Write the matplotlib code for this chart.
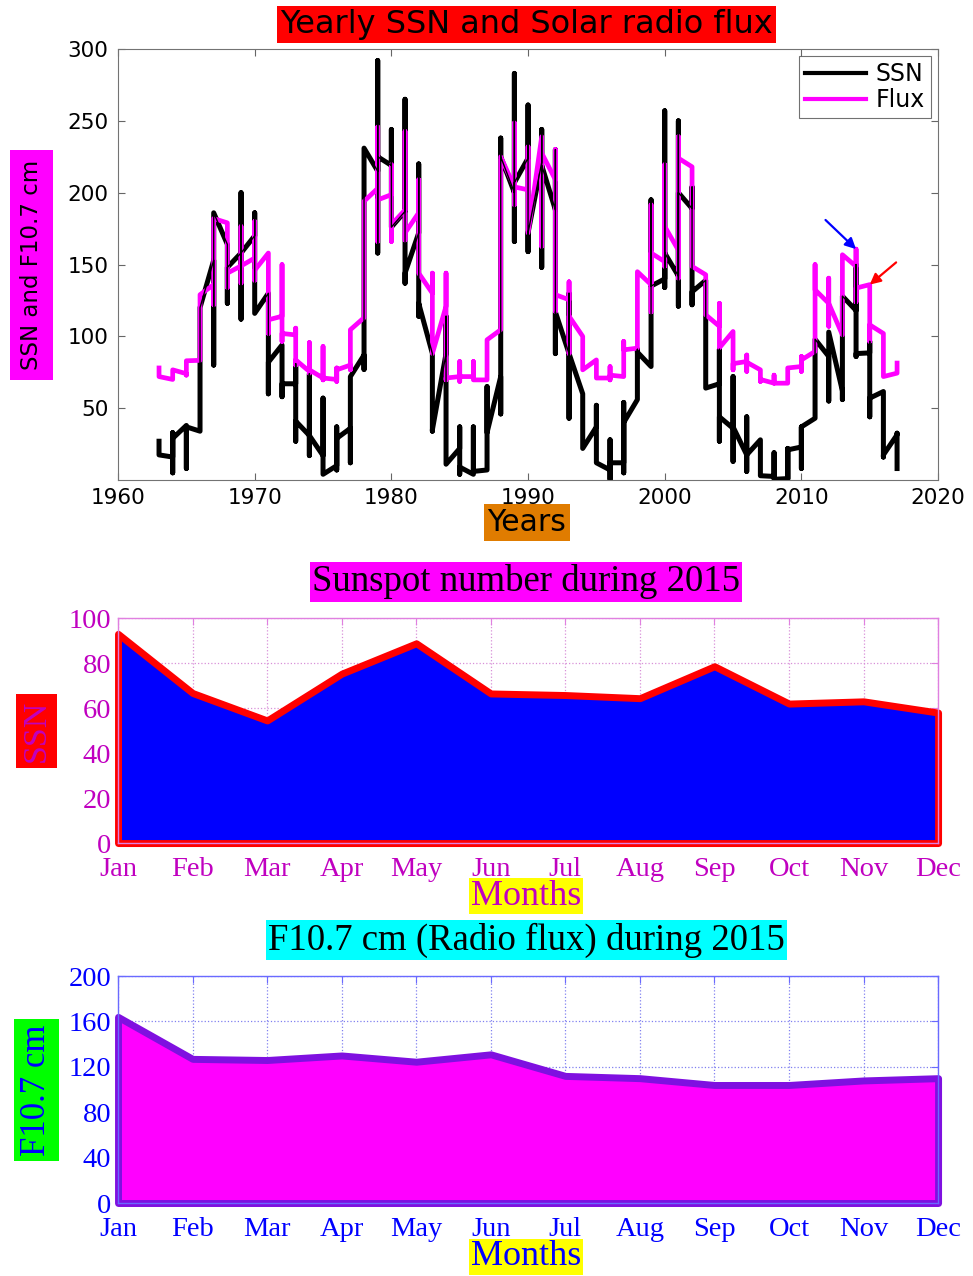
import matplotlib
matplotlib.use("Agg")
import matplotlib.pyplot as plt
import matplotlib.transforms as mtransforms
import numpy as np

# yearly panel: each year is drawn as a vertical run of values at that year
years = list(range(1963, 2018))
ssn_path = [
    [27, 17.5], [16, 33, 5, 29], [38, 8, 37], [34, 120], [153, 80, 186],
    [164, 123, 148], [158, 200, 112, 158], [170, 186, 116], [130, 60, 82],
    [94, 58, 67], [67, 81, 27, 41], [31, 74, 17, 31], [17, 57, 4],
    [10, 37, 7, 29], [36, 12, 72], [87, 77, 231], [215, 292, 158, 225],
    [219, 244, 176], [187, 265, 137, 144], [172, 220, 114, 123], [88, 34, 35],
    [88, 114, 11], [22, 37, 4, 9], [4, 37, 6], [7, 65, 33], [72, 46, 238, 225],
    [200, 283, 166, 207], [224, 261, 159, 172], [221, 244, 148, 219],
    [188, 230, 88, 117], [88, 130, 43, 88], [60, 22], [37, 52, 12],
    [7, 28, 0.5, 12], [12, 54, 5, 40], [56, 91, 89], [79, 195, 79, 135],
    [140, 257, 134, 158], [142, 250, 121, 200], [189, 204, 122, 131], [139, 64],
    [67, 91, 27, 44], [36, 72, 13, 37], [17.5, 44, 6, 17.5], [28, 3],
    [2.5, 19, 0.5], [1, 22, 0.5, 21], [23, 37, 8, 37], [43, 98], [86, 55, 103],
    [62, 56, 128], [118, 150, 86, 88], [88.5, 96.5, 44, 57], [61.6, 16, 17.5],
    [31.5, 32.6, 8],
]
flux_path = [
    [78, 72], [70, 76.7], [74, 82.5, 73, 83], [83.3, 129], [136, 122, 182],
    [179, 134, 144], [149, 176.5, 137, 149], [154.5, 180, 139, 146],
    [158, 102, 111.5], [114, 150, 96.5, 102], [101, 105.7, 80, 83.6],
    [75.6, 95.7, 74.4, 76.7], [71, 93, 69.7, 71], [70, 78, 68.6, 76.7],
    [80, 76.7, 104.6], [113, 194], [203, 245.7, 166, 195],
    [198.6, 219.5, 166, 177.7], [188, 242.7, 167, 172], [186, 209, 144],
    [130, 144, 88], [121, 144, 69.7, 71], [72, 82.5, 68.6, 72], [72, 82.5, 69.7],
    [69.7, 97.6], [104.6, 225], [204, 248.5, 191.6, 204], [202, 232, 172],
    [239, 162.6, 227.6], [209, 230, 117.3, 129], [125.5, 138, 88, 114],
    [100, 76.7], [83.6, 71], [71, 79, 69.7, 73], [72, 96.5, 72, 90.6],
    [91.8, 145], [136, 191.6, 117, 158], [152, 219.5, 148.7, 176.5],
    [160, 239, 140.5, 224], [218, 148.7], [142.9, 115], [107, 123, 92],
    [103.4, 76.7, 81], [82.5, 87, 75.6, 82], [76.7, 68.6, 70], [67.4, 73, 67.4],
    [67.4, 78], [79, 86, 75.6, 83.6], [89.5, 150, 132.4], [123, 140.5, 107, 123],
    [101, 156.8], [148.7, 160.7, 124, 133.6], [136, 96.5, 108], [102, 72],
    [74.4, 81.4],
]

months = ["Jan", "Feb", "Mar", "Apr", "May", "Jun",
          "Jul", "Aug", "Sep", "Oct", "Nov", "Dec"]
ssn_2015 = [93.0, 66.7, 54.5, 75.3, 88.8, 66.5, 65.8, 64.4, 78.6, 62.0, 63.0, 58.0]
flux_2015 = [164, 127, 126, 130, 124.5, 131, 112, 110, 104, 104, 108, 110]

SANS = "DejaVu Sans"
SERIF = "Liberation Serif"


def _runs(paths):
    xs, ys = [], []
    for yr, vals in zip(years, paths):
        xs += [yr] * len(vals)
        ys += vals
    return xs, ys


fig = plt.figure(figsize=(9.73, 12.76), dpi=100)

# ---- top: yearly SSN and flux
ax1 = fig.add_axes([0.1213, 0.6238, 0.8428, 0.3378])
xs, ys = _runs(ssn_path)
xf, yf = _runs(flux_path)
l1, = ax1.plot(xs, ys, color="k", lw=3.6, zorder=2, label="SSN")
l2, = ax1.plot(xf, yf, color="#FF00FF", lw=3.4, zorder=3, label="Flux")
ax1.plot(xs, ys, color="k", lw=1.0, zorder=4)
ax1.set_xlim(1960, 2020)
ax1.set_ylim(0, 300)
ax1.set_xticks(range(1960, 2021, 10))
ax1.set_yticks(range(50, 301, 50))
ax1.tick_params(direction="in", top=True, right=True, length=5, color="0.4",
                labelsize=15.5, pad=7)
ax1.tick_params(axis="x", pad=6)
for lbl in ax1.get_xticklabels() + ax1.get_yticklabels():
    lbl.set_fontfamily(SANS)
for sp in ax1.spines.values():
    sp.set_color("0.45")
leg = ax1.legend(handles=[l1, l2], loc="upper right", bbox_to_anchor=(0.991, 0.984),
                 borderaxespad=0, fancybox=False, edgecolor="0.3",
                 prop={"family": SANS, "size": 17}, handlelength=2.6,
                 handletextpad=0.4, labelspacing=0.1, borderpad=0.25)
leg.get_frame().set_linewidth(0.8)
for h in leg.get_lines():
    h.set_linewidth(3)

i14 = years.index(2014)
i15 = years.index(2015)
ax1.annotate("", xy=(2014, max(flux_path[i14])), xytext=(-22, 21),
             textcoords="offset points",
             arrowprops=dict(arrowstyle="-|>", color="#0000FF", lw=1.6,
                             mutation_scale=16, shrinkA=0, shrinkB=0))
ax1.annotate("", xy=(2015, flux_path[i15][0]), xytext=(19, 16),
             textcoords="offset points",
             arrowprops=dict(arrowstyle="-|>", color="#FF0000", lw=1.6,
                             mutation_scale=16, shrinkA=0, shrinkB=0))

fig.text(0.541, 0.981, "Yearly SSN and Solar radio flux", ha="center", va="center",
         family=SANS, fontsize=23, color="k",
         bbox=dict(facecolor="#FF0000", edgecolor="none", pad=2))
fig.text(0.5416, 0.5905, "Years", ha="center", va="center", family=SANS,
         fontsize=21.5, color="k",
         bbox=dict(facecolor="#E07C00", edgecolor="none", pad=2.5))
fig.text(0.0324, 0.7923, "SSN and F10.7 cm", ha="center", va="center",
         rotation=90, family=SANS, fontsize=16.5, color="k",
         bbox=dict(facecolor="#FF00FF", edgecolor="none", pad=7))


# ---- monthly panels
def _month_panel(rect, vals, ymax, ystep, fill, edge, tickc, spinec, gridc):
    ax = fig.add_axes(rect)
    mx = np.arange(1, 13)
    ax.fill_between(mx, vals, 0, facecolor=fill, edgecolor=edge, lw=5,
                    clip_on=False, zorder=2)
    ax.set_xlim(1, 12)
    ax.set_ylim(0, ymax)
    ax.set_xticks(mx, months, family=SERIF, fontsize=20.5, color=tickc)
    yt = np.arange(0, ymax + 1, ystep)
    ax.set_yticks(yt, [str(int(v)) for v in yt], family=SERIF, fontsize=20.5,
                  color=tickc)
    # nudge y labels up a touch so the "0" clears the "Jan" below it
    up = mtransforms.ScaledTranslation(0, 2.5 / 72, fig.dpi_scale_trans)
    for lbl in ax.get_yticklabels():
        lbl.set_transform(lbl.get_transform() + up)
    ax.set_axisbelow(True)
    ax.grid(True, ls=":", color=gridc, lw=0.9)
    ax.tick_params(direction="in", top=True, right=True, length=5, color=spinec,
                   pad=5)
    ax.tick_params(axis="x", pad=10)
    for sp in ax.spines.values():
        sp.set_color(spinec)
        sp.set_linewidth(1.0)
    return ax


_month_panel([0.1213, 0.3393, 0.8428, 0.1763], ssn_2015, 100, 20,
             "#0000FF", "#FF0000", "#C000C0", "#E080E0", "#D890D8")
fig.text(0.5406, 0.5439, "Sunspot number during 2015", ha="center", va="center",
         family=SERIF, fontsize=26.5, color="k",
         bbox=dict(facecolor="#FF00FF", edgecolor="none", pad=1.5))
fig.text(0.0375, 0.4271, "SSN", ha="center", va="center", rotation=90,
         family=SERIF, fontsize=24.5, color="#C000C0",
         bbox=dict(facecolor="#FF0000", edgecolor="none", pad=4))
fig.text(0.5406, 0.2978, "Months", ha="center", va="center", family=SERIF,
         fontsize=26, color="#C000C0",
         bbox=dict(facecolor="#FFFF00", edgecolor="none", pad=1))

_month_panel([0.1213, 0.0572, 0.8428, 0.1779], flux_2015, 200, 40,
             "#FF00FF", "#7F10E0", "#0000FF", "#6A6AFF", "#8080F0")
fig.text(0.5411, 0.2633, "F10.7 cm (Radio flux) during 2015", ha="center",
         va="center", family=SERIF, fontsize=26.5, color="k",
         bbox=dict(facecolor="#00FFFF", edgecolor="none", pad=1.5))
fig.text(0.0375, 0.1458, "F10.7 cm", ha="center", va="center", rotation=90,
         family=SERIF, fontsize=25, color="#0000FF",
         bbox=dict(facecolor="#00FF00", edgecolor="none", pad=4))
fig.text(0.5406, 0.0149, "Months", ha="center", va="center", family=SERIF,
         fontsize=26, color="#0000FF",
         bbox=dict(facecolor="#FFFF00", edgecolor="none", pad=1))

fig.savefig("out.png", dpi=100)
